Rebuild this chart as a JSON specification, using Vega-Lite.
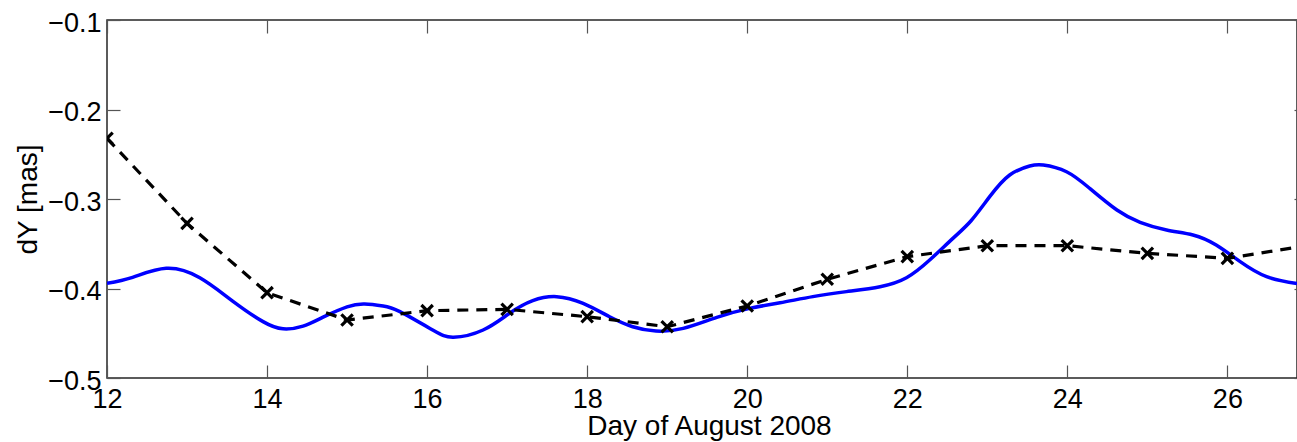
{
  "$schema": "https://vega.github.io/schema/vega-lite/v6.json",
  "width": 1190,
  "height": 358,
  "autosize": {"type": "none"},
  "padding": {"left": 107, "top": 20, "right": 0, "bottom": 64},
  "background": "white",
  "config": {
    "view": {"stroke": "#262626", "strokeWidth": 1.5},
    "axis": {
      "labelFont": "Liberation Sans",
      "titleFont": "Liberation Sans",
      "labelColor": "black",
      "titleColor": "black",
      "labelFontSize": 27,
      "titleFontSize": 28,
      "titleFontWeight": "normal",
      "tickColor": "#555555",
      "tickSize": -13,
      "tickWidth": 1.2,
      "domain": false,
      "grid": false,
      "labelFlush": false
    }
  },
  "datasets": {
    "blue": [
      {"day": 12.00, "dY": -0.3942},
      {"day": 12.32, "dY": -0.3875},
      {"day": 12.74, "dY": -0.3775},
      {"day": 13.16, "dY": -0.3880},
      {"day": 13.57, "dY": -0.4140},
      {"day": 13.95, "dY": -0.4370},
      {"day": 14.20, "dY": -0.4450},
      {"day": 14.45, "dY": -0.4420},
      {"day": 14.70, "dY": -0.4320},
      {"day": 15.00, "dY": -0.4205},
      {"day": 15.22, "dY": -0.4173},
      {"day": 15.45, "dY": -0.4195},
      {"day": 15.66, "dY": -0.4259},
      {"day": 16.07, "dY": -0.4464},
      {"day": 16.33, "dY": -0.4545},
      {"day": 16.70, "dY": -0.4464},
      {"day": 17.03, "dY": -0.4277},
      {"day": 17.32, "dY": -0.4136},
      {"day": 17.62, "dY": -0.4091},
      {"day": 17.95, "dY": -0.4166},
      {"day": 18.28, "dY": -0.4315},
      {"day": 18.57, "dY": -0.4427},
      {"day": 18.86, "dY": -0.4475},
      {"day": 19.20, "dY": -0.4445},
      {"day": 19.62, "dY": -0.4322},
      {"day": 20.03, "dY": -0.4222},
      {"day": 20.41, "dY": -0.4160},
      {"day": 20.82, "dY": -0.4091},
      {"day": 21.24, "dY": -0.4035},
      {"day": 21.66, "dY": -0.3980},
      {"day": 21.99, "dY": -0.3880},
      {"day": 22.28, "dY": -0.3682},
      {"day": 22.57, "dY": -0.3440},
      {"day": 22.80, "dY": -0.3240},
      {"day": 23.03, "dY": -0.2974},
      {"day": 23.28, "dY": -0.2732},
      {"day": 23.53, "dY": -0.2631},
      {"day": 23.70, "dY": -0.2620},
      {"day": 23.99, "dY": -0.2695},
      {"day": 24.28, "dY": -0.2881},
      {"day": 24.62, "dY": -0.3123},
      {"day": 24.91, "dY": -0.3260},
      {"day": 25.24, "dY": -0.3346},
      {"day": 25.57, "dY": -0.3402},
      {"day": 25.86, "dY": -0.3514},
      {"day": 26.16, "dY": -0.3700},
      {"day": 26.49, "dY": -0.3868},
      {"day": 26.87, "dY": -0.3945}
    ],
    "ref": [
      {"day": 12, "dY": -0.2322},
      {"day": 13, "dY": -0.3272},
      {"day": 14, "dY": -0.4047},
      {"day": 15, "dY": -0.4352},
      {"day": 16, "dY": -0.4248},
      {"day": 17, "dY": -0.4233},
      {"day": 18, "dY": -0.4315},
      {"day": 19, "dY": -0.4427},
      {"day": 20, "dY": -0.4196},
      {"day": 21, "dY": -0.3897},
      {"day": 22, "dY": -0.3644},
      {"day": 23, "dY": -0.3522},
      {"day": 24, "dY": -0.3522},
      {"day": 25, "dY": -0.3607},
      {"day": 26, "dY": -0.3663},
      {"day": 27, "dY": -0.3520}
    ]
  },
  "layer": [
    {
      "data": {"name": "blue"},
      "mark": {"type": "line", "color": "#0000ff", "strokeWidth": 3.5, "interpolate": "natural", "clip": true},
      "encoding": {
        "x": {
          "field": "day", "type": "quantitative",
          "scale": {"domain": [12, 26.87], "nice": false, "zero": false},
          "axis": {
            "orient": "bottom",
            "values": [12, 14, 16, 18, 20, 22, 24, 26],
            "format": "d",
            "labelPadding": 21,
            "title": "Day of August 2008",
            "titleX": 602,
            "titleY": 34,
            "titleBaseline": "top",
            "titleAlign": "center",
            "titleAnchor": "start"
          }
        },
        "y": {
          "field": "dY", "type": "quantitative",
          "scale": {"domain": [-0.5, -0.1], "nice": false, "zero": false},
          "axis": {
            "orient": "left",
            "values": [-0.5, -0.4, -0.3, -0.2, -0.1],
            "format": ".1f",
            "labelPadding": 19,
            "labelBaseline": "middle",
            "labelOffset": 3,
            "title": "dY [mas]",
            "titleX": -79,
            "titleY": 179,
            "titleAngle": 270,
            "titleAlign": "center",
            "titleBaseline": "middle",
            "titleAnchor": "start"
          }
        }
      }
    },
    {
      "data": {"name": "ref"},
      "mark": {"type": "line", "color": "black", "strokeWidth": 3.2, "strokeDash": [11, 8], "clip": true},
      "encoding": {
        "x": {
          "field": "day", "type": "quantitative",
          "scale": {"domain": [12, 26.87], "nice": false, "zero": false},
          "axis": {"orient": "top", "values": [12, 14, 16, 18, 20, 22, 24, 26], "labels": false, "title": null}
        },
        "y": {
          "field": "dY", "type": "quantitative",
          "scale": {"domain": [-0.5, -0.1], "nice": false, "zero": false},
          "axis": {"orient": "right", "values": [-0.5, -0.4, -0.3, -0.2, -0.1], "labels": false, "title": null, "tickSize": -3}
        }
      }
    },
    {
      "data": {"name": "ref"},
      "transform": [{"filter": "datum.day <= 26"}],
      "mark": {"type": "point", "shape": "M-1,-1L1,1M-1,1L1,-1", "size": 130, "filled": false, "stroke": "black", "strokeWidth": 3.2, "opacity": 1, "clip": true},
      "encoding": {
        "x": {"field": "day", "type": "quantitative", "scale": {"domain": [12, 26.87], "nice": false, "zero": false}, "axis": null},
        "y": {"field": "dY", "type": "quantitative", "scale": {"domain": [-0.5, -0.1], "nice": false, "zero": false}, "axis": null}
      }
    }
  ],
  "resolve": {"axis": {"x": "independent", "y": "independent"}}
}
